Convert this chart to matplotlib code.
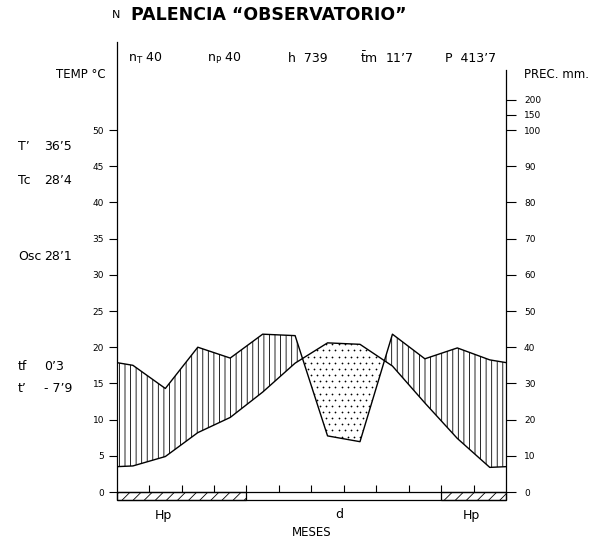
import numpy as np
import matplotlib.pyplot as plt
from matplotlib.patches import Rectangle

plt.rcParams['font.family'] = ['DejaVu Sans']
plt.rcParams['hatch.linewidth'] = 0.6
plt.rcParams['hatch.color'] = 'black'

# Monthly means, Palencia "Observatorio" (Jan..Dec)
temp = [3.6, 4.9, 8.2, 10.3, 13.8, 17.8, 20.6, 20.4, 17.4, 12.3, 7.4, 3.4]
prec = [35.0, 28.6, 40.0, 37.0, 43.6, 43.2, 15.5, 13.9, 43.6, 36.8, 39.8, 36.5]
# frost regime per month: Hp = probable frost, d = frost-free
frost = ['Hp', 'Hp', 'Hp', 'Hp', 'd', 'd', 'd', 'd', 'd', 'd', 'Hp', 'Hp']

temp_ticks = list(range(0, 55, 5))
prec_ticks = [0, 10, 20, 30, 40, 50, 60, 70, 80, 90, 100, 150, 200]

stats_top = [(128, r'$\mathregular{n_T}$ 40'), (207, r'$\mathregular{n_P}$ 40'),
             (288, 'h  739'), (360, r'$\mathregular{\bar{t}m}$  11’7'),
             (445, 'P  413’7')]
stats_left = [(147, 'T’', '36’5'), (181, 'Tc', '28’4'), (257, 'Osc', '28’1'),
              (366, 'tf', '0’3'), (388, 't’', '- 7’9')]


def prec_to_temp(p):
    # 10 mm = 5 degC up to 100 mm, compressed scale above
    p = np.asarray(p, dtype=float)
    return np.where(p <= 100, p / 2, 50 + (p - 100) / 24)


W, H = 603, 541


def fpos(x, y):
    return x / W, 1 - y / H


months = np.arange(12)
x = np.r_[0, months + 0.5, 12]
t = np.asarray(temp)
p = prec_to_temp(prec)
t_line = np.r_[(t[0] + t[-1]) / 2, t, (t[0] + t[-1]) / 2]
p_line = np.r_[(p[0] + p[-1]) / 2, p, (p[0] + p[-1]) / 2]

fig = plt.figure(figsize=(W / 100, H / 100), dpi=100)
ax = fig.add_axes([0.1935, 0.0705, 0.6456, 0.8631])
ax.set_xlim(0, 12)
ax.set_ylim(-1.5, 63)

# humid period: vertical hatch
ax.fill_between(x, t_line, p_line, where=p_line >= t_line, interpolate=True,
                facecolor='none', edgecolor='black', hatch='|||', linewidth=0)

# dry period: staggered dot screen clipped to the area
dry = ax.fill_between(x, t_line, p_line, where=t_line > p_line, interpolate=True,
                      facecolor='none', linewidth=0)
gx, gy = np.meshgrid(np.arange(0, 12, 0.19), np.arange(0, 30, 0.85))
gx = gx + (np.arange(gy.shape[0]) % 2)[:, None] * 0.095
dots = ax.scatter(gx.ravel(), gy.ravel(), s=1.6, color='black', linewidths=0)
dots.set_clip_path(dry.get_paths()[0], ax.transData)

ax.plot(x, t_line, color='black', lw=1.0)
ax.plot(x, p_line, color='black', lw=1.0)

# frost bar under the zero line
bar_h = 1.05
ax.add_patch(Rectangle((0, -bar_h), 12, bar_h, fill=False, lw=0.9, clip_on=False))
start = None
for i, code in enumerate(frost + ['end']):
    if code == 'Hp' and start is None:
        start = i
    elif code != 'Hp' and start is not None:
        ax.add_patch(Rectangle((start, -bar_h), i - start, bar_h, facecolor='none',
                               edgecolor='black', hatch='///', lw=0.9, clip_on=False))
        start = None
ax.vlines(np.arange(1, 12), 0, 0.9, color='black', lw=0.8)

# left temperature axis
ax.set_xticks([])
ax.set_yticks(temp_ticks)
ax.tick_params(axis='y', direction='out', length=6, width=0.8, labelsize=6.5, pad=3)
for s in ['top', 'bottom', 'right']:
    ax.spines[s].set_visible(False)
ax.spines['left'].set_bounds(0, 62.2)
ax.spines['left'].set_linewidth(0.9)

# right precipitation axis
ax2 = ax.twinx()
ax2.set_ylim(ax.get_ylim())
ax2.set_yticks(prec_to_temp(prec_ticks))
ax2.set_yticklabels([str(v) for v in prec_ticks])
ax2.tick_params(axis='y', direction='out', length=7, width=0.8, labelsize=6.5, pad=6)
for s in ['top', 'bottom', 'left']:
    ax2.spines[s].set_visible(False)
ax2.spines['right'].set_bounds(0, 58.3)
ax2.spines['right'].set_linewidth(0.9)

# title and station data
fig.text(*fpos(112, 15), 'N', fontsize=8, ha='left', va='center')
fig.text(*fpos(131, 15), 'PALENCIA “OBSERVATORIO”', fontsize=12.5,
         fontweight='bold', ha='left', va='center')
for xp, s in stats_top:
    fig.text(*fpos(xp, 58), s, fontsize=9, ha='left', va='center')
fig.text(*fpos(106, 75), 'TEMP °C', fontsize=8.5, ha='right', va='center')
fig.text(*fpos(524, 75), 'PREC. mm.', fontsize=8.5, ha='left', va='center')
for yp, name, val in stats_left:
    fig.text(*fpos(18, yp), name, fontsize=9, ha='left', va='center')
    fig.text(*fpos(44, yp), val, fontsize=9, ha='left', va='center')

fig.text(*fpos(163, 515), 'Hp', fontsize=9, ha='center', va='center')
fig.text(*fpos(339, 515), 'd', fontsize=9, ha='center', va='center')
fig.text(*fpos(471, 515), 'Hp', fontsize=9, ha='center', va='center')
fig.text(*fpos(312, 532), 'MESES', fontsize=8.5, ha='center', va='center')

fig.savefig('out.png', dpi=100)
